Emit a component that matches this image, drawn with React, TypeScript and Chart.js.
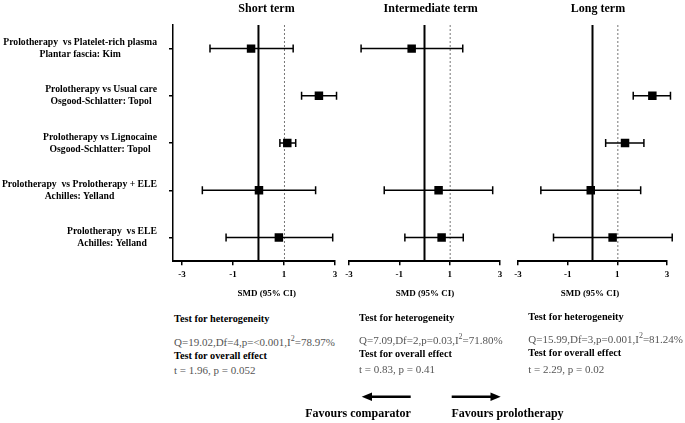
import React, { useEffect, useRef } from "react";
import { Chart, registerables } from "chart.js";

Chart.register(...registerables);

// ---- data ----
const rowLabels: string[][] = [
  ["Prolotherapy  vs Platelet-rich plasma", "Plantar fascia: Kim"],
  ["Prolotherapy vs Usual care", "Osgood-Schlatter: Topol"],
  ["Prolotherapy vs Lignocaine", "Osgood-Schlatter: Topol"],
  ["Prolotherapy  vs Prolotherapy + ELE", "Achilles: Yelland"],
  ["Prolotherapy  vs ELE", "Achilles: Yelland"],
];
const rows = [1, 2, 3, 4, 5];
const xTicks = [-3, -1, 1, 3];

const shortEst = [-0.29, 2.37, 1.13, 0.02, 0.8];
const shortLow = [-1.9, 1.69, 0.84, -2.2, -1.27];
const shortHigh = [1.36, 3.06, 1.46, 2.24, 2.91];

const interEst = [-0.51, null, null, 0.56, 0.68];
const interLow = [-2.52, null, null, -1.6, -0.78];
const interHigh = [1.52, null, null, 2.71, 1.54];

const longEst = [null, 2.41, 1.31, -0.07, 0.81];
const longLow = [null, 1.64, 0.53, -2.08, -1.57];
const longHigh = [null, 3.14, 2.07, 1.94, 3.21];

const panelTitles = ["Short term", "Intermediate term", "Long term"];
const hetStats = [
  ["Q=19.02,Df=4,p=<0.001,I", "=78.97%"],
  ["Q=7.09,Df=2,p=0.03,I", "=71.80%"],
  ["Q=15.99,Df=3,p=0.001,I", "=81.24%"],
];
const overallStats = ["t = 1.96, p = 0.052", "t = 0.83, p = 0.41", "t = 2.29, p = 0.02"];

const SERIF = '"Liberation Serif", "Times New Roman", serif';

type Num = number | null;

interface PanelProps {
  est: Num[];
  low: Num[];
  high: Num[];
  left: number;
  width: number;
  padLeft: number;
  xmin: number;
  showY: boolean;
}

function Panel({ est, low, high, left, width, padLeft, xmin, showY }: PanelProps) {
  const ref = useRef<HTMLCanvasElement | null>(null);
  useEffect(() => {
    if (!ref.current) return;
    const points = rows
      .map((r, i) => ({ x: est[i], y: r }))
      .filter((p) => p.x !== null) as { x: number; y: number }[];

    const refLines = {
      id: "refLines",
      beforeDatasetsDraw(chart: any) {
        const { ctx, chartArea, scales } = chart;
        const xs = scales.x;
        const ys = scales.y;
        ctx.save();
        // solid line at 0
        const x0 = xs.getPixelForValue(0);
        ctx.strokeStyle = "#000";
        ctx.lineWidth = 2;
        ctx.beginPath();
        ctx.moveTo(x0, chartArea.top);
        ctx.lineTo(x0, chartArea.bottom);
        ctx.stroke();
        // dotted line at 1
        const x1 = xs.getPixelForValue(1);
        ctx.strokeStyle = "#777";
        ctx.lineWidth = 1;
        ctx.setLineDash([2, 2]);
        ctx.beginPath();
        ctx.moveTo(x1 + 0.5, chartArea.top);
        ctx.lineTo(x1 + 0.5, chartArea.bottom);
        ctx.stroke();
        ctx.setLineDash([]);
        // error bars
        ctx.strokeStyle = "#000";
        ctx.lineWidth = 1.5;
        rows.forEach((r, i) => {
          const lo = low[i];
          const hi = high[i];
          if (lo === null || hi === null) return;
          const y = ys.getPixelForValue(r);
          const xl = xs.getPixelForValue(lo);
          const xh = xs.getPixelForValue(hi);
          ctx.beginPath();
          ctx.moveTo(xl, y);
          ctx.lineTo(xh, y);
          ctx.moveTo(xl, y - 4);
          ctx.lineTo(xl, y + 4);
          ctx.moveTo(xh, y - 4);
          ctx.lineTo(xh, y + 4);
          ctx.stroke();
        });
        ctx.restore();
      },
      afterDraw(chart: any) {
        if (!showY) return;
        const { ctx, scales } = chart;
        const ys = scales.y;
        ctx.save();
        ctx.font = `bold 9.7px ${SERIF}`;
        ctx.fillStyle = "#000";
        ctx.textAlign = "center";
        ctx.textBaseline = "middle";
        rowLabels.forEach((lines, i) => {
          const y = ys.getPixelForValue(rows[i]);
          const w = Math.max(...lines.map((l) => ctx.measureText(l).width));
          const cx = 157 - w / 2;
          ctx.fillText(lines[0], cx, y - 6);
          ctx.fillText(lines[1], cx, y + 6);
        });
        ctx.restore();
      },
    };

    const chart = new Chart(ref.current, {
      type: "scatter",
      data: {
        datasets: [
          {
            data: points,
            pointStyle: "rect",
            radius: 6,
            hoverRadius: 6,
            backgroundColor: "#000",
            borderColor: "#000",
            borderWidth: 0,
          },
        ],
      },
      options: {
        animation: false,
        responsive: false,
        devicePixelRatio: 1,
        events: [],
        layout: { padding: { left: padLeft, right: 10, top: 25, bottom: 6 } },
        plugins: { legend: { display: false }, tooltip: { enabled: false } },
        scales: {
          x: {
            type: "linear",
            min: xmin,
            max: 3,
            afterBuildTicks: (s: any) => {
              s.ticks = xTicks.map((v) => ({ value: v }));
            },
            grid: {
              display: true,
              drawOnChartArea: false,
              drawTicks: true,
              tickLength: 4,
              color: "#000",
              lineWidth: 1.5,
            },
            border: { display: true, color: "#000", width: 2 },
            ticks: {
              color: "#000",
              padding: 4,
              font: { family: SERIF, size: 9, weight: "bold" },
              callback: (v: any) => String(v),
            },
          },
          y: {
            type: "linear",
            display: showY,
            min: 0.5,
            max: 5.5,
            reverse: true,
            afterBuildTicks: (s: any) => {
              s.ticks = rows.map((v) => ({ value: v }));
            },
            grid: {
              display: true,
              drawOnChartArea: false,
              drawTicks: true,
              tickLength: 4,
              color: "#000",
              lineWidth: 1.5,
            },
            border: { display: true, color: "#000", width: 1.5 },
            ticks: { display: false },
          },
        },
      },
      plugins: [refLines],
    } as any);
    return () => chart.destroy();
  }, []);
  return (
    <canvas
      ref={ref}
      width={width}
      height={290}
      style={{ position: "absolute", left, top: 0, width, height: 290 }}
    />
  );
}

const centered = (x: number, y: number): React.CSSProperties => ({
  position: "absolute",
  left: x,
  top: y,
  transform: "translate(-50%, -50%)",
  whiteSpace: "nowrap",
  lineHeight: 1,
});
const leftMid = (x: number, y: number): React.CSSProperties => ({
  position: "absolute",
  left: x,
  top: y,
  transform: "translateY(-50%)",
  whiteSpace: "nowrap",
  lineHeight: 1,
});

const titleX = [266.5, 430.7, 598];
const smdX = [266.7, 425, 590];
const statX = [174, 359, 528.3];
const statY = [
  [319.3, 341.5, 355.7, 370],
  [318.3, 340, 354, 369],
  [317.3, 339, 353.3, 369],
];

export default function App() {
  return (
    <div
      style={{
        position: "absolute",
        left: 0,
        top: 0,
        width: 685,
        height: 423,
        background: "#fff",
        fontFamily: SERIF,
        color: "#000",
        overflow: "hidden",
      }}
    >
      <Panel est={shortEst} low={shortLow} high={shortHigh} left={0} width={345} padLeft={169} xmin={-3.35} showY={true} />
      <Panel est={interEst} low={interLow} high={interHigh} left={340} width={170} padLeft={9} xmin={-3} showY={false} />
      <Panel est={longEst} low={longLow} high={longHigh} left={508} width={169} padLeft={10} xmin={-3} showY={false} />

      {panelTitles.map((t, i) => (
        <div key={t} style={{ ...centered(titleX[i], 7.5), fontSize: 12, fontWeight: "bold" }}>
          {t}
        </div>
      ))}
      {smdX.map((x, i) => (
        <div key={i} style={{ ...centered(x, 293), fontSize: 9, fontWeight: "bold" }}>
          SMD (95% CI)
        </div>
      ))}
      {statX.map((x, i) => (
        <React.Fragment key={i}>
          <div style={{ ...leftMid(x, statY[i][0]), fontSize: 10.3, fontWeight: "bold" }}>
            Test for heterogeneity
          </div>
          <div style={{ ...leftMid(x, statY[i][1]), fontSize: 11, color: "#555" }}>
            {hetStats[i][0]}
            <span style={{ fontSize: 8, verticalAlign: "5px", lineHeight: 0 }}>2</span>
            {hetStats[i][1]}
          </div>
          <div style={{ ...leftMid(x, statY[i][2]), fontSize: 10.3, fontWeight: "bold" }}>
            Test for overall effect
          </div>
          <div style={{ ...leftMid(x, statY[i][3]), fontSize: 11, color: "#555" }}>
            {overallStats[i]}
          </div>
        </React.Fragment>
      ))}

      <svg
        width={685}
        height={423}
        style={{ position: "absolute", left: 0, top: 0, pointerEvents: "none" }}
      >
        <line x1={410.7} y1={396.7} x2={370} y2={396.7} stroke="#000" strokeWidth={2.5} />
        <polygon points="361.7,396.7 372,392.5 372,401" fill="#000" />
        <line x1={451.7} y1={396.7} x2={491} y2={396.7} stroke="#000" strokeWidth={2.5} />
        <polygon points="500.7,396.7 490.5,392.5 490.5,401" fill="#000" />
      </svg>
      <div style={{ ...centered(358, 413.3), fontSize: 12, fontWeight: "bold" }}>Favours comparator</div>
      <div style={{ ...centered(507.5, 413.3), fontSize: 12, fontWeight: "bold" }}>Favours prolotherapy</div>
    </div>
  );
}
